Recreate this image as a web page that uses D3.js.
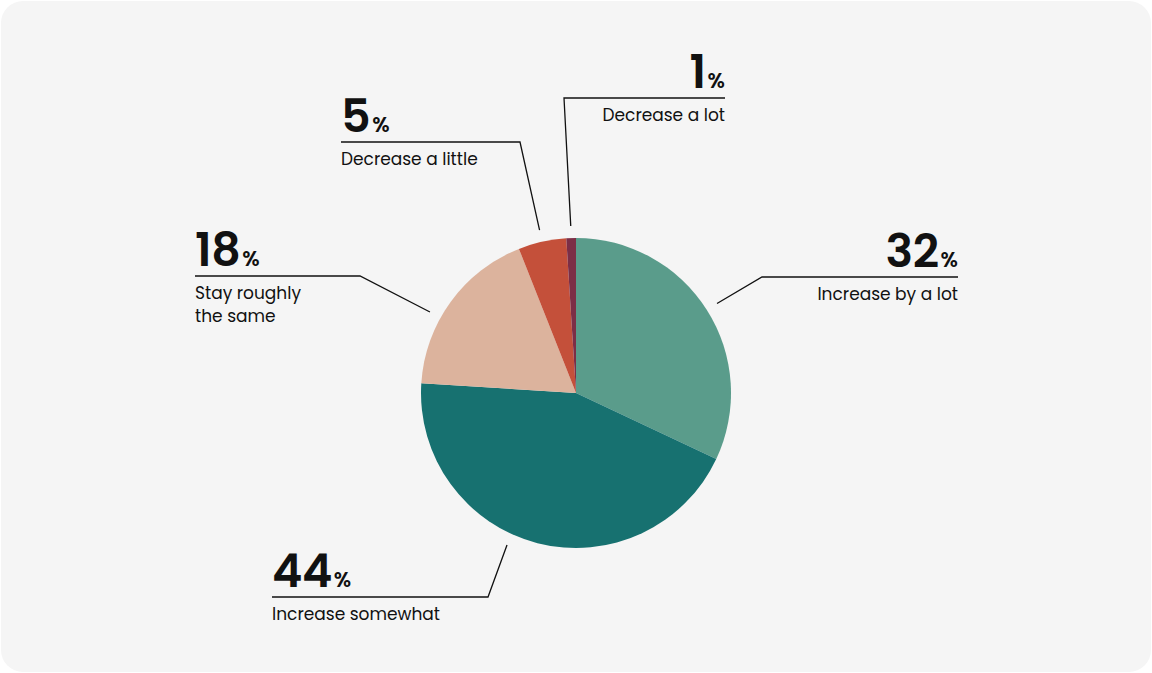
<!DOCTYPE html>
<html><head><meta charset="utf-8">
<script src="https://cdn.jsdelivr.net/npm/d3@7"></script>
<style>
html,body{margin:0;padding:0;background:#fff;}
svg{display:block;}
text{font-family:"Poppins","Inter","Noto Sans",sans-serif;fill:#111;}
</style></head><body>
<svg id="chart" width="1152" height="673"></svg>
<script>
const categories = ["Increase by a lot","Increase somewhat","Stay roughly the same","Decrease a little","Decrease a lot"];
const values = [32,44,18,5,1];
const labelLines = [["Increase by a lot"],["Increase somewhat"],["Stay roughly","the same"],["Decrease a little"],["Decrease a lot"]];
const colors = ["#5a9c8b","#177170","#dcb39d","#c4503a","#7c2e46"];

// layout for the callouts (elbow position, line end, alignment, angle nudge)
const callouts = [
  {elbowX:762, elbowY:277, endX:958, align:"end",   nudge:0},
  {elbowX:488, elbowY:597, endX:272, align:"start", nudge:10},
  {elbowX:360, elbowY:276, endX:195, align:"start", nudge:-7},
  {elbowX:520, elbowY:142, endX:341, align:"start", nudge:0},
  {elbowX:564, elbowY:98,  endX:725, align:"end",   nudge:0}
];

const svg = d3.select("#chart");
svg.append("rect").attr("x",1).attr("y",1).attr("width",1150).attr("height",671)
  .attr("rx",22).attr("fill","#f5f5f5");

const cx = 576, cy = 393, R = 155;
const g = svg.append("g").attr("transform",`translate(${cx},${cy})`);
const data = categories.map((c,i)=>({cat:c, value:values[i], i}));
const pie = d3.pie().value(d=>d.value).sort(null);
const arcs = pie(data);
const arc = d3.arc().innerRadius(0).outerRadius(R);
g.selectAll("path.slice").data(arcs).join("path").attr("class","slice")
  .attr("d",arc).attr("fill",d=>colors[d.data.i]);

const outerR = R + 12;
arcs.forEach(a=>{
  const c = callouts[a.data.i];
  const ang = (a.startAngle + a.endAngle)/2 + c.nudge*Math.PI/180;
  const sx = cx + outerR*Math.sin(ang), sy = cy - outerR*Math.cos(ang);
  svg.append("polyline")
    .attr("points",`${sx},${sy} ${c.elbowX},${c.elbowY} ${c.endX},${c.elbowY}`)
    .attr("fill","none").attr("stroke","#111").attr("stroke-width",1.3);
  const tx = c.endX;
  const t = svg.append("text").attr("x",tx).attr("y",c.elbowY-10)
    .attr("text-anchor",c.align);
  t.append("tspan").attr("font-size",46).attr("font-weight",600).attr("letter-spacing",-0.5).text(a.data.value);
  t.append("tspan").attr("font-size",21).attr("font-weight",600).attr("dx",2).text("%");
  const lines = labelLines[a.data.i];
  lines.forEach((ln,k)=>{
    svg.append("text").attr("x",tx).attr("y",c.elbowY+23+k*23)
      .attr("text-anchor",c.align).attr("font-size",17).text(ln);
  });
});
</script></body></html>
